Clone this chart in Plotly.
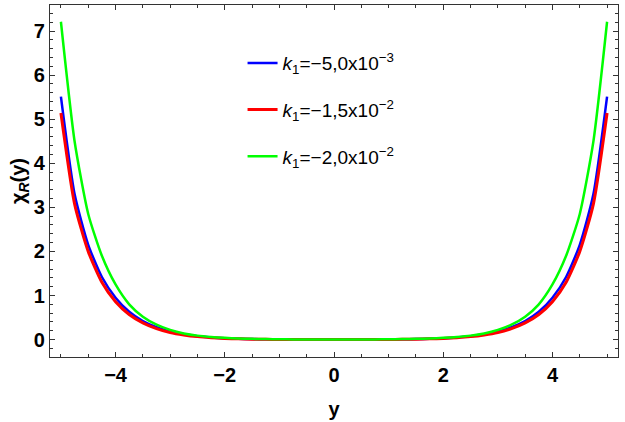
import plotly.graph_objects as go

y_grid = [-5.0, -4.75, -4.5, -4.25, -4.0, -3.75, -3.5, -3.25, -3.0, -2.75, -2.5,
          -2.25, -2.0, -1.75, -1.5, -1.25, -1.0, -0.75, -0.5, -0.25, 0.0,
          0.25, 0.5, 0.75, 1.0, 1.25, 1.5, 1.75, 2.0, 2.25, 2.5,
          2.75, 3.0, 3.25, 3.5, 3.75, 4.0, 4.25, 4.5, 4.75, 5.0]

chi_blue = [5.51, 3.3, 2.15, 1.42, 0.95, 0.63, 0.42, 0.28, 0.18, 0.12, 0.075,
            0.048, 0.03, 0.019, 0.012, 0.007, 0.004, 0.002, 0.001, 0.0, 0.0,
            0.0, 0.001, 0.002, 0.004, 0.007, 0.012, 0.019, 0.03, 0.048, 0.075,
            0.12, 0.18, 0.28, 0.42, 0.63, 0.95, 1.42, 2.15, 3.3, 5.51]

chi_red = [5.14, 3.08, 2.0, 1.3, 0.86, 0.57, 0.38, 0.25, 0.16, 0.105, 0.067,
           0.043, 0.027, 0.017, 0.01, 0.006, 0.003, 0.002, 0.001, 0.0, 0.0,
           0.0, 0.001, 0.002, 0.003, 0.006, 0.01, 0.017, 0.027, 0.043, 0.067,
           0.105, 0.16, 0.25, 0.38, 0.57, 0.86, 1.3, 2.0, 3.08, 5.14]

chi_green = [7.21, 4.5, 2.85, 1.9, 1.25, 0.8, 0.52, 0.34, 0.22, 0.14, 0.09,
             0.06, 0.04, 0.026, 0.017, 0.011, 0.007, 0.004, 0.002, 0.0, 0.0,
             0.0, 0.002, 0.004, 0.007, 0.011, 0.017, 0.026, 0.04, 0.06, 0.09,
             0.14, 0.22, 0.34, 0.52, 0.8, 1.25, 1.9, 2.85, 4.5, 7.21]

names = ["<i>k</i><sub>1</sub>=\u22125,0x10<sup>\u22123</sup>",
         "<i>k</i><sub>1</sub>=\u22121,5x10<sup>\u22122</sup>",
         "<i>k</i><sub>1</sub>=\u22122,0x10<sup>\u22122</sup>"]
series = [chi_blue, chi_red, chi_green]
colors = ["#0000FF", "#FF0000", "#00FF00"]
widths = [2.5, 3, 2.5]

fig = go.Figure()
for i, (nm, vals, c, w) in enumerate(zip(names, series, colors, widths)):
    fig.add_trace(go.Scatter(x=y_grid, y=vals, mode="lines", name=nm,
                             legendgroup=f"g{i}",
                             line=dict(color=c, width=w, shape="spline", smoothing=0.6)))

axis_common = dict(showline=True, linecolor="#333", linewidth=1.2, mirror="ticks",
                   ticks="inside", tickcolor="#333", showgrid=False, zeroline=False,
                   automargin=False,
                   tickfont=dict(family="Liberation Sans", size=20, color="black", weight="bold"))

fig.update_xaxes(range=[-5.2, 5.2], tickmode="array", tickvals=[-4, -2, 0, 2, 4],
                 ticklen=5, tickwidth=1,
                 minor=dict(dtick=0.5, tick0=0, ticklen=3, ticks="inside", tickcolor="#333"),
                 title=dict(text="y", font=dict(family="Liberation Sans", size=20, color="black", weight="bold"),
                            standoff=16),
                 **axis_common)
fig.update_yaxes(range=[-0.395, 7.59], tickmode="array", tickvals=[0, 1, 2, 3, 4, 5, 6, 7],
                 ticklen=5, tickwidth=1,
                 minor=dict(dtick=0.2, tick0=0, ticklen=3, ticks="inside", tickcolor="#333"),
                 title=dict(text="\u03c7<sub><i>R</i></sub>(y)",
                            font=dict(family="Liberation Sans", size=20, color="black", weight="bold"),
                            standoff=2),
                 **axis_common)

fig.update_layout(
    width=625, height=422,
    margin=dict(l=50, r=7, t=5, b=65),
    plot_bgcolor="white", paper_bgcolor="white",
    showlegend=True,
    legend=dict(x=0.339, y=0.889, xanchor="left", yanchor="top",
                bgcolor="rgba(0,0,0,0)", traceorder="grouped", tracegroupgap=19,
                font=dict(family="Liberation Sans", size=19, color="black")),
)

fig.write_html("out.html", config={"displayModeBar": False},
               post_script="document.body.style.margin='0px';document.body.style.padding='0px';")
